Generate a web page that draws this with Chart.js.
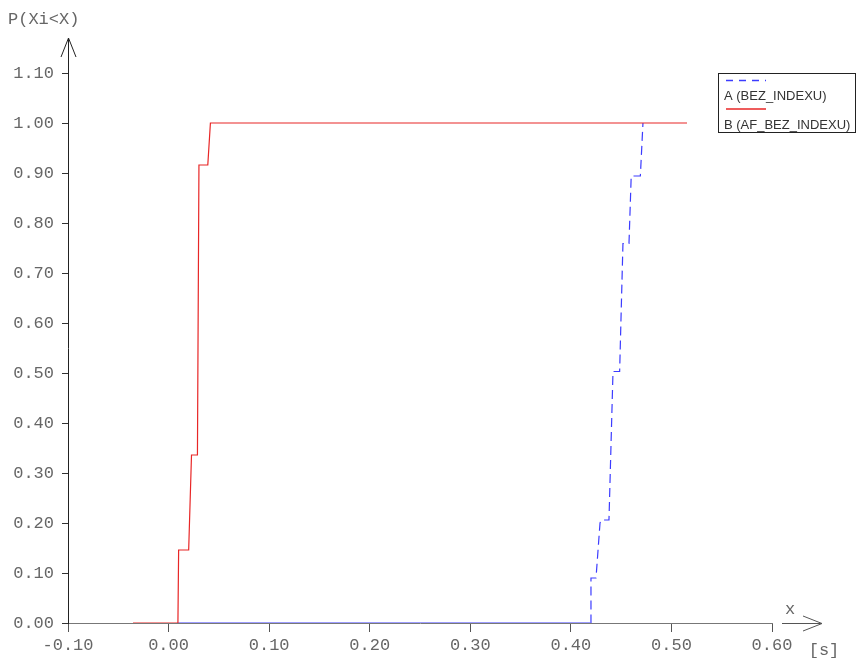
<!DOCTYPE html>
<html>
<head>
<meta charset="utf-8">
<script src="https://cdn.jsdelivr.net/npm/chart.js@4/dist/chart.umd.min.js"></script>
<style>
  html, body { margin: 0; padding: 0; background: #fff; }
  #wrap { width: 856px; height: 660px; }
</style>
</head>
<body>
<div id="wrap"><canvas id="c" width="856" height="660"></canvas></div>
<script>
// Empirical distribution functions P(Xi<X) of the two measurements (x in seconds)
const labelA = 'A (BEZ_INDEXU)';
const labelB = 'B (AF_BEZ_INDEXU)';

const xA = [0.0093, 0.4194, 0.4200, 0.4250, 0.4290, 0.4300, 0.4379, 0.4419, 0.4485, 0.4518, 0.4578, 0.4600, 0.4691, 0.4717];
const pA = [0.000, 0.000, 0.090, 0.090, 0.200, 0.206, 0.206, 0.503, 0.503, 0.759, 0.759, 0.894, 0.894, 1.000];

const xB = [-0.0354, 0.0093, 0.0100, 0.0200, 0.0228, 0.0287, 0.0302, 0.0390, 0.0416, 0.5155];
const pB = [0.000, 0.000, 0.146, 0.146, 0.336, 0.336, 0.916, 0.916, 1.000, 1.000];

const xTicks = [-0.10, 0.00, 0.10, 0.20, 0.30, 0.40, 0.50, 0.60];
const yTicks = [0.00, 0.10, 0.20, 0.30, 0.40, 0.50, 0.60, 0.70, 0.80, 0.90, 1.00, 1.10];

const yAxisTitle = 'P(Xi<X)';
const xAxisTitle = 'x';
const xAxisUnit = '[s]';

const colA = 'rgb(60,60,255)';
const colB = 'rgb(232,38,38)';
const tickFont = { family: 'Liberation Mono', size: 17 };
const tickColor = '#666';

const toPoints = (xs, ys) => xs.map((x, i) => ({ x: x, y: ys[i] }));

// Arrows, axis captions and the framed legend
const decorations = {
  id: 'decorations',
  afterDraw(chart) {
    const ctx = chart.ctx;
    const xs = chart.scales.x, ys = chart.scales.y;
    const x0 = xs.getPixelForValue(xTicks[0]);
    const yTop = ys.getPixelForValue(yTicks[yTicks.length - 1]);
    const yBase = ys.getPixelForValue(0);
    const xEnd = xs.getPixelForValue(xTicks[xTicks.length - 1]);
    ctx.save();
    // vertical arrow above the y axis
    ctx.strokeStyle = '#222';
    ctx.lineWidth = 1;
    ctx.beginPath();
    ctx.moveTo(x0 + 0.5, yTop);
    ctx.lineTo(x0 + 0.5, yTop - 35);
    ctx.moveTo(x0 - 7, yTop - 16);
    ctx.lineTo(x0 + 0.5, yTop - 35);
    ctx.lineTo(x0 + 8, yTop - 16);
    ctx.stroke();
    // horizontal arrow right of the x axis
    const ax = xEnd + 10;
    ctx.strokeStyle = '#555';
    ctx.beginPath();
    ctx.moveTo(ax, yBase + 0.5);
    ctx.lineTo(ax + 40, yBase + 0.5);
    ctx.moveTo(ax + 21, yBase - 7);
    ctx.lineTo(ax + 40, yBase + 0.5);
    ctx.lineTo(ax + 21, yBase + 8);
    ctx.stroke();
    // captions
    ctx.fillStyle = tickColor;
    ctx.font = '17px "Liberation Mono"';
    ctx.textBaseline = 'middle';
    ctx.textAlign = 'left';
    ctx.fillText(yAxisTitle, 8, 19);
    ctx.textAlign = 'center';
    ctx.fillText(xAxisTitle, ax + 8, yBase - 14);
    ctx.fillText(xAxisUnit, ax + 42, yBase + 27);
    // legend
    const lx = 718.5, ly = 73.5, lw = 137, lh = 59;
    ctx.fillStyle = '#fff';
    ctx.fillRect(lx, ly, lw, lh);
    ctx.strokeStyle = '#222';
    ctx.lineWidth = 1;
    ctx.strokeRect(lx, ly, lw, lh);
    const ds = chart.data.datasets;
    const entries = [ds[0], ds[1]];
    ctx.font = '13px "Liberation Sans"';
    ctx.textAlign = 'left';
    entries.forEach((d, i) => {
      const sy = 80.5 + i * 28.5;
      ctx.strokeStyle = d.borderColor;
      ctx.lineWidth = 1.3;
      ctx.setLineDash(i === 0 ? [7, 6] : []);
      ctx.beginPath();
      ctx.moveTo(726, sy);
      ctx.lineTo(766, sy);
      ctx.stroke();
      ctx.setLineDash([]);
      ctx.fillStyle = '#333';
      ctx.fillText(d.label, 724, sy + 16);
    });
    ctx.restore();
  }
};

new Chart(document.getElementById('c'), {
  type: 'line',
  data: {
    datasets: [
      {
        label: labelA,
        data: toPoints(xA, pA),
        borderColor: colA,
        borderWidth: 1.2,
        pointRadius: 0,
        tension: 0,
        order: 2,
        segment: {
          borderDash: c => (c.p0.parsed.y === 0 && c.p1.parsed.y === 0) ? [] : [9, 5]
        }
      },
      {
        label: labelB,
        data: toPoints(xB, pB),
        borderColor: colB,
        borderWidth: 1.2,
        pointRadius: 0,
        tension: 0,
        order: 1
      }
    ]
  },
  options: {
    responsive: false,
    animation: false,
    events: [],
    layout: { padding: { left: 0, top: 73, right: 84, bottom: 0 } },
    plugins: { legend: { display: false }, tooltip: { enabled: false } },
    scales: {
      x: {
        type: 'linear',
        min: xTicks[0],
        max: xTicks[xTicks.length - 1],
        afterFit: s => { s.height = 37; },
        afterBuildTicks: s => { s.ticks = xTicks.map(v => ({ value: v })); },
        grid: { drawOnChartArea: false, drawTicks: true, tickLength: 9, color: '#555', lineWidth: 1 },
        border: { color: '#777', width: 1 },
        ticks: {
          font: tickFont, color: tickColor, padding: 3, maxRotation: 0,
          callback: v => Number(v).toFixed(2)
        }
      },
      y: {
        type: 'linear',
        min: yTicks[0],
        max: yTicks[yTicks.length - 1],
        afterFit: s => { s.width = 68; },
        afterBuildTicks: s => { s.ticks = yTicks.map(v => ({ value: v })); },
        grid: { drawOnChartArea: false, drawTicks: true, tickLength: 6, color: '#333', lineWidth: 1 },
        border: { color: '#222', width: 1 },
        ticks: {
          font: tickFont, color: tickColor, padding: 8,
          callback: v => Number(v).toFixed(2)
        }
      }
    }
  },
  plugins: [decorations]
});
</script>
</body>
</html>
